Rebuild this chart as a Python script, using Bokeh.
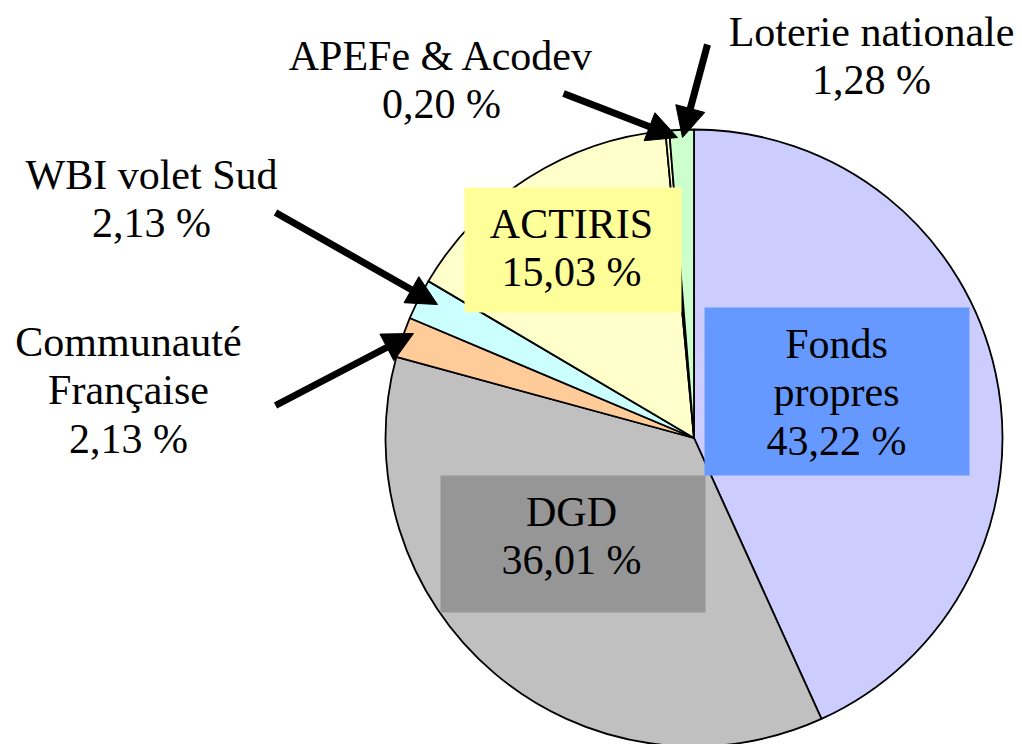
import math
from bokeh.plotting import figure
from bokeh.models import Range1d, ColumnDataSource, Arrow, NormalHead
from bokeh.core.properties import value
from bokeh.embed import file_html
from bokeh.resources import INLINE

# ---- data ----
categories = ["Fonds propres", "DGD", "Communauté Française", "WBI volet Sud",
              "ACTIRIS", "APEFe & Acodev", "Loterie nationale"]
shares = [43.22, 36.01, 2.13, 2.13, 15.03, 0.20, 1.28]
name_lines = [["Fonds", "propres"], ["DGD"], ["Communauté", "Française"], ["WBI volet Sud"],
              ["ACTIRIS"], ["APEFe & Acodev"], ["Loterie nationale"]]
slice_colors = ["#CCCCFF", "#C0C0C0", "#FFCC99", "#CCFFFF", "#FFFFCC", "#FFFFCC", "#CCFFCC"]

# ---- layout (page pixel coordinates, y downwards) ----
PAGE_W, PAGE_H = 1022, 744
CX, CY, R = 693.5, 437.5, 308.5
label_anchor = [(836, 357), (571, 525), (128, 355), (151, 188), (571, 237), (441, 69), (871, 45)]
LINE_STEP = 48.5
DESCENT = 9  # text is anchored at its bottom (descender line)
label_box = [(704, 969, 307, 475, "#6699FF"), (440, 705, 475, 612, "#969696"), None, None,
             (464, 681, 187, 312, "#FFFF99"), None, None]
arrow_pts = [None, None, ((275, 405), (413, 333)), ((275, 212), (437, 304)), None,
             ((563, 93), (677, 137)), ((707, 44), (682, 137))]
FONT = "Liberation Serif"


def fy(y):
    return PAGE_H - y


p = figure(width=PAGE_W, height=PAGE_H, x_range=Range1d(0, PAGE_W), y_range=Range1d(0, PAGE_H),
           output_backend="svg", toolbar_location=None, min_border=0,
           x_axis_location=None, y_axis_location=None)
p.xgrid.grid_line_color = None
p.ygrid.grid_line_color = None
p.outline_line_color = None

# wedges
total = sum(shares)
starts, ends = [], []
cum = 0.0
for v in shares:
    starts.append(math.pi / 2 - 2 * math.pi * cum / total)
    cum += v
    ends.append(math.pi / 2 - 2 * math.pi * cum / total)

wsrc = ColumnDataSource(dict(x=[CX] * len(shares), y=[fy(CY)] * len(shares),
                             start=starts, end=ends, color=slice_colors, name=categories))
p.wedge(x="x", y="y", radius=R, start_angle="start", end_angle="end", direction="clock",
        fill_color="color", line_color="black", line_width=1.8, source=wsrc)

# label boxes
bl, br, bt, bb, bc = [], [], [], [], []
for b in label_box:
    if b is None:
        continue
    bl.append(b[0]); br.append(b[1]); bt.append(fy(b[2])); bb.append(fy(b[3])); bc.append(b[4])
p.quad(left=bl, right=br, top=bt, bottom=bb, fill_color=bc, line_color=None)

# label texts
for lines, v, (ax, ay) in zip(name_lines, shares, label_anchor):
    all_lines = lines + [f"{v:.2f}".replace(".", ",") + " %"]
    tx = [ax] * len(all_lines)
    ty = [fy(ay + i * LINE_STEP + DESCENT) for i in range(len(all_lines))]
    p.text(x=tx, y=ty, text=all_lines, text_font=value(FONT), text_font_size="42px",
           text_align="center")

# arrows
for a in arrow_pts:
    if a is None:
        continue
    (x0, y0), (x1, y1) = a
    p.add_layout(Arrow(x_start=x0, y_start=fy(y0), x_end=x1, y_end=fy(y1),
                       line_width=7, line_color="black",
                       end=NormalHead(size=30, fill_color="black", line_color="black")))

open("out.html", "w").write(file_html(p, INLINE))
